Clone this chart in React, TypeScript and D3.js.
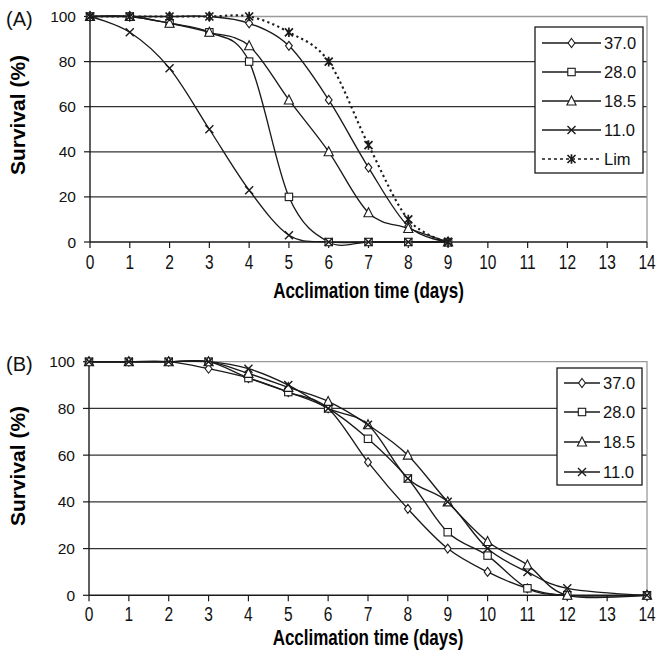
import React from "react";
import * as d3 from "d3";

const daysA = [0, 1, 2, 3, 4, 5, 6, 7, 8, 9];
const a370 = [100, 100, 100, 100, 97, 87, 63, 33, 7, 0];
const a280 = [100, 100, 97, 93, 80, 20, 0, 0, 0, 0];
const a185 = [100, 100, 97, 93, 87, 63, 40, 13, 6, 0];
const a110 = [100, 93, 77, 50, 23, 3, 0, 0, 0, 0];
const aLim = [100, 100, 100, 100, 100, 93, 80, 43, 10, 0];

const daysB = [0, 1, 2, 3, 4, 5, 6, 7, 8, 9, 10, 11, 12, 14];
const b370 = [100, 100, 100, 97, 93, 87, 80, 57, 37, 20, 10, 3, 0, 0];
const b280 = [100, 100, 100, 100, 93, 87, 80, 67, 50, 27, 17, 3, 0, 0];
const b185 = [100, 100, 100, 100, 95, 89, 83, 73, 60, 40, 23, 13, 0, 0];
const b110 = [100, 100, 100, 100, 97, 90, 80, 73, 50, 40, 20, 10, 3, 0];

const seriesNames = ["37.0", "28.0", "18.5", "11.0", "Lim"];
const markerTypes = ["diamond", "square", "triangle", "cross", "asterisk"];
const xTicks = d3.range(0, 15);
const yTicks = [0, 20, 40, 60, 80, 100];
const xTitle = "Acclimation time (days)";
const yTitle = "Survival (%)";

const FONT = "'Liberation Sans', Arial, sans-serif";
const INK = "#1a1a1a";

function Marker({ type, x, y }: { type: string; x: number; y: number }) {
  const s = 4;
  if (type === "diamond")
    return <path d={`M${x},${y - s - 0.5}L${x + s - 0.6},${y}L${x},${y + s + 0.5}L${x - s + 0.6},${y}Z`} fill="#fff" stroke={INK} strokeWidth={1.1} />;
  if (type === "square")
    return <rect x={x - s + 0.3} y={y - s + 0.3} width={2 * s - 0.6} height={2 * s - 0.6} fill="#fff" stroke={INK} strokeWidth={1.1} />;
  if (type === "triangle")
    return <path d={`M${x},${y - s - 1}L${x + s + 0.6},${y + s}L${x - s - 0.6},${y + s}Z`} fill="#fff" stroke={INK} strokeWidth={1.1} />;
  if (type === "cross")
    return <path d={`M${x - s},${y - s}L${x + s},${y + s}M${x - s},${y + s}L${x + s},${y - s}`} stroke={INK} strokeWidth={1.4} fill="none" />;
  return (
    <path
      d={`M${x - s},${y - s}L${x + s},${y + s}M${x - s},${y + s}L${x + s},${y - s}M${x},${y - s - 0.8}L${x},${y + s + 0.8}`}
      stroke={INK}
      strokeWidth={1.7}
      fill="none"
    />
  );
}

type Series = { name: string; marker: string; xs: number[]; ys: number[]; dashed?: boolean };

function Panel({
  label,
  series,
  x0,
  x1,
  yTop,
  yBot,
  tickBase,
  titleBase,
  yTitleCenter,
  legend,
}: {
  label: string;
  series: Series[];
  x0: number;
  x1: number;
  yTop: number;
  yBot: number;
  tickBase: number;
  titleBase: number;
  yTitleCenter: number;
  legend: { x: number; y: number; w: number; h: number; rows: number[] };
}) {
  const x = d3.scaleLinear().domain([0, 14]).range([x0, x1]);
  const y = d3.scaleLinear().domain([0, 100]).range([yBot, yTop]);
  const line = d3
    .line<[number, number]>()
    .x((d) => x(d[0]))
    .y((d) => y(d[1]))
    .curve(d3.curveCardinal.tension(0));
  return (
    <g>
      {yTicks
        .filter((t) => t > 0 && t < 100)
        .map((t) => (
          <line key={t} x1={x0} x2={x1} y1={y(t)} y2={y(t)} stroke="#333" strokeWidth={1.2} />
        ))}
      <path d={`M${x0},${y(100)}H${x1}V${y(0)}`} fill="none" stroke="#9a9a9a" strokeWidth={1.3} />
      <line x1={x0} x2={x0} y1={y(100)} y2={y(0)} stroke={INK} strokeWidth={1.4} />
      <line x1={x0} x2={x1} y1={y(0)} y2={y(0)} stroke={INK} strokeWidth={1.4} />
      {yTicks.map((t) => (
        <g key={t}>
          <line x1={x0 - 6} x2={x0} y1={y(t)} y2={y(t)} stroke={INK} strokeWidth={1.2} />
          <text x={x0 - 14} y={y(t)} dy="0.36em" textAnchor="end" fontSize={15.5} fontFamily={FONT} fill="#111">
            {t}
          </text>
        </g>
      ))}
      {xTicks.map((t) => (
        <g key={t}>
          <line x1={x(t)} x2={x(t)} y1={y(0)} y2={y(0) + 6} stroke={INK} strokeWidth={1.2} />
          <text
            transform={`translate(${x(t)},${tickBase}) scale(1,1.28)`}
            textAnchor="middle"
            fontSize={15.5}
            fontFamily={FONT}
            fill="#111"
          >
            {t}
          </text>
        </g>
      ))}
      <text
        transform={`translate(${(x0 + x1) / 2 - 0},${titleBase}) scale(1,1.28)`}
        textAnchor="middle"
        fontSize={17}
        fontWeight="bold"
        fontFamily={FONT}
        fill="#000"
      >
        {xTitle}
      </text>
      <text
        transform={`translate(25,${yTitleCenter}) rotate(-90)`}
        textAnchor="middle"
        fontSize={21}
        fontWeight="bold"
        fontFamily={FONT}
        fill="#000"
      >
        {yTitle}
      </text>
      <text x={6} y={y(100) + 9} fontSize={20} fontFamily={FONT} fill="#111">
        {label}
      </text>
      {series.map((s) => {
        const pts = s.xs.map((d, i) => [d, s.ys[i]] as [number, number]);
        return (
          <g key={s.name}>
            <path
              d={line(pts) || ""}
              fill="none"
              stroke={INK}
              strokeWidth={s.dashed ? 2.1 : 1.35}
              strokeDasharray={s.dashed ? "2.2,3.2" : undefined}
            />
            {pts.map((p, i) => (
              <Marker key={i} type={s.marker} x={x(p[0])} y={y(p[1])} />
            ))}
          </g>
        );
      })}
      <rect x={legend.x} y={legend.y} width={legend.w} height={legend.h} fill="#fff" stroke={INK} strokeWidth={1.3} />
      {series.map((s, i) => {
        const ry = legend.rows[i];
        const lx0 = legend.x + 7;
        const lx1 = legend.x + (legend.w > 100 ? 66 : 43);
        return (
          <g key={s.name}>
            <line
              x1={lx0}
              x2={lx1}
              y1={ry}
              y2={ry}
              stroke={INK}
              strokeWidth={s.dashed ? 1.7 : 1.3}
              strokeDasharray={s.dashed ? "3,3" : undefined}
            />
            <Marker type={s.marker} x={(lx0 + lx1) / 2} y={ry} />
            <text x={lx1 + 3} y={ry} dy="0.36em" fontSize={16.5} fontFamily={FONT} fill="#111">
              {s.name}
            </text>
          </g>
        );
      })}
    </g>
  );
}

export default function App() {
  const seriesA: Series[] = [
    { name: seriesNames[0], marker: markerTypes[0], xs: daysA, ys: a370 },
    { name: seriesNames[1], marker: markerTypes[1], xs: daysA, ys: a280 },
    { name: seriesNames[2], marker: markerTypes[2], xs: daysA, ys: a185 },
    { name: seriesNames[3], marker: markerTypes[3], xs: daysA, ys: a110 },
    { name: seriesNames[4], marker: markerTypes[4], xs: daysA, ys: aLim, dashed: true },
  ];
  const seriesB: Series[] = [
    { name: seriesNames[0], marker: markerTypes[0], xs: daysB, ys: b370 },
    { name: seriesNames[1], marker: markerTypes[1], xs: daysB, ys: b280 },
    { name: seriesNames[2], marker: markerTypes[2], xs: daysB, ys: b185 },
    { name: seriesNames[3], marker: markerTypes[3], xs: daysB, ys: b110 },
  ];
  return (
    <svg width={658} height={661} style={{ position: "absolute", left: 0, top: 0, background: "#fff" }}>
      <rect width={658} height={661} fill="#fff" />
      <Panel
        label="(A)"
        series={seriesA}
        x0={90}
        x1={647}
        yTop={16.5}
        yBot={242}
        tickBase={269}
        titleBase={298}
        yTitleCenter={115}
        legend={{ x: 535, y: 27, w: 108, h: 146, rows: [43, 72, 101, 130, 159] }}
      />
      <Panel
        label="(B)"
        series={seriesB}
        x0={89}
        x1={647}
        yTop={361.7}
        yBot={595.3}
        tickBase={621}
        titleBase={645}
        yTitleCenter={466}
        legend={{ x: 557, y: 368, w: 85, h: 117, rows: [383, 412, 442, 472] }}
      />
    </svg>
  );
}
